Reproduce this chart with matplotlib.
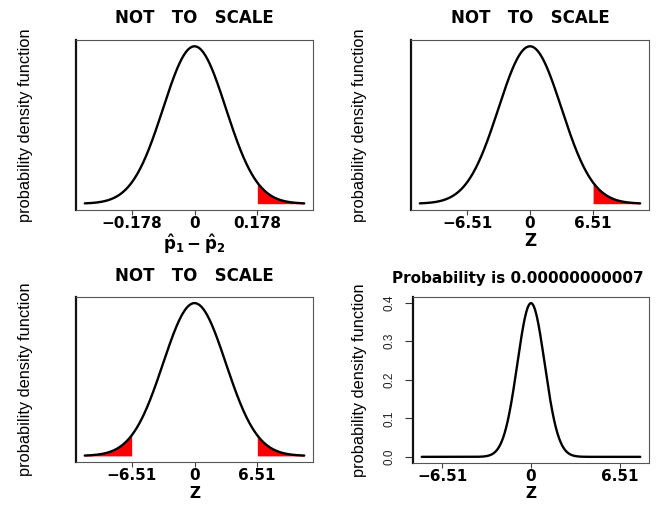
import numpy as np
import matplotlib
matplotlib.use("Agg")
import matplotlib.pyplot as plt

# ---- data ----
titles = ["NOT   TO   SCALE", "NOT   TO   SCALE", "NOT   TO   SCALE",
          "Probability is 0.00000000007"]
tick_pos_nts = [-2, 0, 2]                       # "not to scale" tick positions (sd units)
labels_p = ["\u22120.178", "0", "0.178"]
labels_z = ["\u22126.51", "0", "6.51"]
nts_range = (-3.5, 3.5)                          # curve extent for not-to-scale panels
z_crit = 6.51
z_range = (-8.0, 8.0)                            # curve extent, true-scale panel
yticks4 = [0.0, 0.1, 0.2, 0.3, 0.4]
ytick_labels4 = ["0.0", "0.1", "0.2", "0.3", "0.4"]
ylabel = "probability density function"
xlabel_p = r"$\mathbf{\hat{p}_{1}-\hat{p}_{2}}$"
xlabel_z = "Z"

W, H = 668, 505
fig = plt.figure(figsize=(W / 100, H / 100), dpi=100)
narrow = ["Liberation Sans", "DejaVu Sans"]


def pdf(x):
    return np.exp(-x ** 2 / 2) / np.sqrt(2 * np.pi)


def make_ax(l, t, r, b):
    return fig.add_axes([l / W, 1 - b / H, (r - l) / W, (b - t) / H])


def style(ax):
    for s in ["top", "right", "bottom"]:
        ax.spines[s].set_color("#555555")
        ax.spines[s].set_linewidth(0.8)
    ax.spines["left"].set_color("#111111")
    ax.spines["left"].set_linewidth(1.6)
    ax.tick_params(axis="x", direction="out", length=3.3, width=0.8,
                   color="#444444", pad=1)
    for lab in ax.get_xticklabels():
        lab.set_fontweight("bold")
        lab.set_fontsize(11)
        lab.set_family("DejaVu Sans")


boxes = [(76, 40, 313, 210), (411, 40, 649, 210), (76, 297, 313, 462), (413, 297, 649, 463)]
title_pad = [12.2, 12.2, 11.5, 10.0]
xlab_off = [22, 22, 24, 23]
xlab_size = [12, 12, 11, 11]

for i, (l, t, r, b) in enumerate(boxes):
    ax = make_ax(l, t, r, b)
    hpx = b - t
    wpx = r - l
    if i < 3:
        x = np.linspace(nts_range[0], nts_range[1], 600)
        y = pdf(x)
        ax.plot(x, y, color="black", lw=1.7, solid_capstyle="round")
        crit = tick_pos_nts[2]
        m = x >= crit
        ax.fill_between(x[m], 0, y[m], color="red", lw=0)
        if i == 2:
            m2 = x <= -crit
            ax.fill_between(x[m2], 0, y[m2], color="red", lw=0)
        span = nts_range[1] - nts_range[0]
        ax.set_xlim(nts_range[0] - 0.04 * span, nts_range[1] + 0.04 * span)
        ax.set_xticks(tick_pos_nts)
        ax.set_xticklabels(labels_p if i == 0 else labels_z)
        ax.set_yticks([])
        ax.set_title(titles[i], fontsize=12, fontweight="bold",
                     family="DejaVu Sans", pad=title_pad[i])
    else:
        x = np.linspace(z_range[0], z_range[1], 800)
        y = pdf(x)
        m = x >= z_crit
        ax.fill_between(x[m], 0, y[m], color="red", lw=0)
        ax.plot(x, y, color="black", lw=1.7, solid_capstyle="round")
        span = z_range[1] - z_range[0]
        ax.set_xlim(z_range[0] - 0.04 * span, z_range[1] + 0.04 * span)
        ax.set_xticks([-z_crit, 0, z_crit])
        ax.set_xticklabels(labels_z)
        ax.set_yticks(yticks4)
        ax.set_yticklabels(ytick_labels4)
        ax.tick_params(axis="y", direction="out", length=5.8, width=0.8,
                       color="#333333", pad=7, labelrotation=90)
        for lab in ax.get_yticklabels():
            lab.set_family(narrow)
            lab.set_fontsize(8.5)
            lab.set_color("#222222")
            lab.set_va("center")
        ax.text((518 - l) / wpx, 1 + title_pad[i] / 0.72 / hpx, titles[i],
                transform=ax.transAxes, ha="center", va="baseline",
                fontsize=11, fontweight="bold", family="DejaVu Sans")
    ymax = pdf(0)
    ax.set_ylim(-0.04 * ymax, ymax * 1.04)
    style(ax)
    ax.set_ylabel(ylabel, family=narrow, fontsize=11.8)
    ax.yaxis.set_label_coords(-(l - (33 if i % 2 == 0 else 367)) / wpx, 0.5)
    ax.set_xlabel(xlabel_p if i == 0 else xlabel_z, fontsize=xlab_size[i],
                  fontweight="bold", family="DejaVu Sans")
    ax.xaxis.set_label_coords(0.5, -xlab_off[i] / hpx)

fig.savefig("out.png", dpi=100)
